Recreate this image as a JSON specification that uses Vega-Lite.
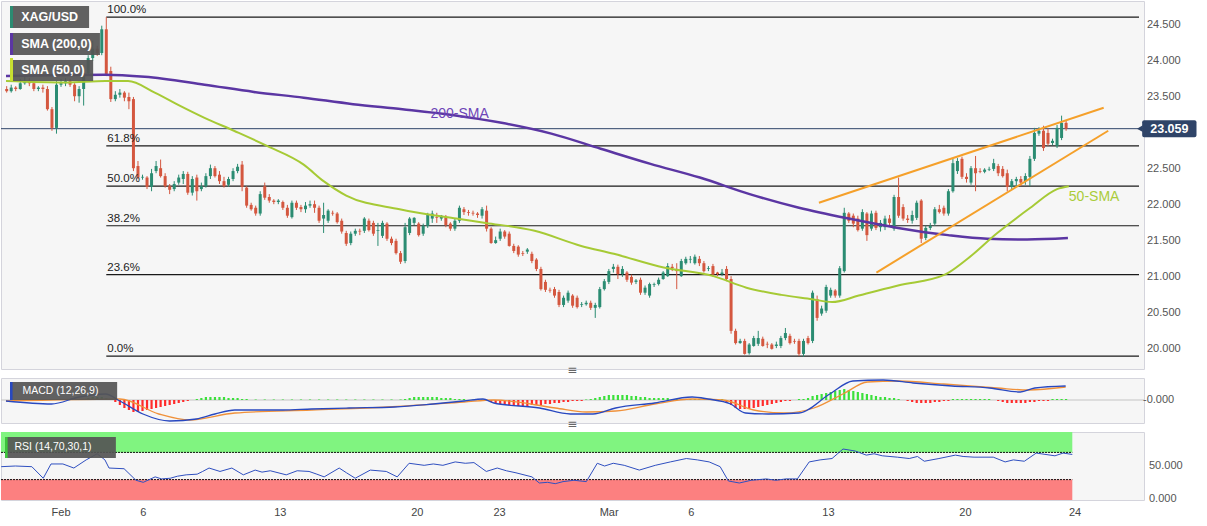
{
"$schema":"https://vega.github.io/schema/vega-lite/v6.json",
"padding":0,
"background":"white",
"spacing":9,
"bounds":"flush",
"config":{"view":{"fill":"#f6f6f6","stroke":"#d4d4dc"},"axis":{"labelFont":"Liberation Sans","labelFontSize":11,"labelColor":"#555","gridColor":"#e4e4e4","domain":false,"ticks":false},"text":{"font":"Liberation Sans"}},
"datasets":{
"candles":[
{"i":0,"o":23.61,"h":23.65,"l":23.56,"c":23.58},{"i":1,"o":23.58,"h":23.67,"l":23.56,"c":23.63},{"i":2,"o":23.63,"h":23.65,"l":23.58,"c":23.61},{"i":3,"o":23.61,"h":23.75,"l":23.6,"c":23.69},{"i":4,"o":23.69,"h":23.78,"l":23.67,"c":23.72},{"i":5,"o":23.72,"h":23.76,"l":23.65,"c":23.69},{"i":6,"o":23.69,"h":23.72,"l":23.58,"c":23.61},{"i":7,"o":23.61,"h":23.65,"l":23.58,"c":23.63},{"i":8,"o":23.63,"h":23.67,"l":23.56,"c":23.61},{"i":9,"o":23.61,"h":23.65,"l":23.31,"c":23.33},
{"i":10,"o":23.33,"h":23.36,"l":23.03,"c":23.07},{"i":11,"o":23.07,"h":23.72,"l":22.99,"c":23.67},{"i":12,"o":23.67,"h":23.75,"l":23.64,"c":23.69},{"i":13,"o":23.69,"h":23.76,"l":23.65,"c":23.72},{"i":14,"o":23.72,"h":23.75,"l":23.64,"c":23.67},{"i":15,"o":23.67,"h":23.69,"l":23.44,"c":23.51},{"i":16,"o":23.51,"h":23.65,"l":23.42,"c":23.61},{"i":17,"o":23.61,"h":23.89,"l":23.38,"c":23.83},{"i":18,"o":23.83,"h":24.08,"l":23.81,"c":24.04},{"i":19,"o":24.04,"h":24.28,"l":24.0,"c":24.17},
{"i":20,"o":24.17,"h":24.21,"l":24.07,"c":24.11},{"i":21,"o":24.11,"h":24.49,"l":24.08,"c":24.44},{"i":22,"o":24.44,"h":24.61,"l":23.79,"c":23.82},{"i":23,"o":23.86,"h":23.92,"l":23.43,"c":23.47},{"i":24,"o":23.47,"h":23.58,"l":23.44,"c":23.53},{"i":25,"o":23.53,"h":23.61,"l":23.49,"c":23.56},{"i":26,"o":23.56,"h":23.58,"l":23.44,"c":23.49},{"i":27,"o":23.5,"h":23.56,"l":23.33,"c":23.44},{"i":28,"o":23.47,"h":23.5,"l":22.47,"c":22.51},{"i":29,"o":22.54,"h":22.61,"l":22.36,"c":22.38},
{"i":30,"o":22.38,"h":22.42,"l":22.35,"c":22.39},{"i":31,"o":22.38,"h":22.4,"l":22.22,"c":22.25},{"i":32,"o":22.25,"h":22.5,"l":22.19,"c":22.44},{"i":33,"o":22.47,"h":22.61,"l":22.44,"c":22.54},{"i":34,"o":22.51,"h":22.63,"l":22.38,"c":22.4},{"i":35,"o":22.4,"h":22.44,"l":22.24,"c":22.26},{"i":36,"o":22.26,"h":22.29,"l":22.15,"c":22.21},{"i":37,"o":22.22,"h":22.33,"l":22.19,"c":22.29},{"i":38,"o":22.31,"h":22.42,"l":22.28,"c":22.38},{"i":39,"o":22.36,"h":22.47,"l":22.29,"c":22.43},
{"i":40,"o":22.43,"h":22.46,"l":22.14,"c":22.17},{"i":41,"o":22.17,"h":22.4,"l":22.13,"c":22.36},{"i":42,"o":22.38,"h":22.42,"l":22.06,"c":22.19},{"i":43,"o":22.22,"h":22.31,"l":22.19,"c":22.26},{"i":44,"o":22.26,"h":22.44,"l":22.24,"c":22.4},{"i":45,"o":22.4,"h":22.56,"l":22.36,"c":22.51},{"i":46,"o":22.51,"h":22.54,"l":22.38,"c":22.4},{"i":47,"o":22.42,"h":22.47,"l":22.29,"c":22.33},{"i":48,"o":22.33,"h":22.39,"l":22.24,"c":22.26},{"i":49,"o":22.28,"h":22.39,"l":22.25,"c":22.36},
{"i":50,"o":22.36,"h":22.51,"l":22.33,"c":22.47},{"i":51,"o":22.47,"h":22.57,"l":22.44,"c":22.53},{"i":52,"o":22.56,"h":22.61,"l":22.19,"c":22.25},{"i":53,"o":22.24,"h":22.26,"l":21.96,"c":21.99},{"i":54,"o":22.0,"h":22.03,"l":21.92,"c":21.94},{"i":55,"o":21.96,"h":21.99,"l":21.85,"c":21.88},{"i":56,"o":21.88,"h":22.19,"l":21.85,"c":22.15},{"i":57,"o":22.26,"h":22.31,"l":22.07,"c":22.1},{"i":58,"o":22.11,"h":22.15,"l":22.03,"c":22.06},{"i":59,"o":22.06,"h":22.08,"l":22.01,"c":22.04},
{"i":60,"o":22.04,"h":22.08,"l":22.01,"c":22.06},{"i":61,"o":22.04,"h":22.06,"l":21.93,"c":21.96},{"i":62,"o":21.96,"h":22.0,"l":21.82,"c":21.85},{"i":63,"o":21.83,"h":22.06,"l":21.81,"c":22.03},{"i":64,"o":22.03,"h":22.06,"l":21.93,"c":21.96},{"i":65,"o":21.97,"h":22.0,"l":21.9,"c":21.94},{"i":66,"o":21.94,"h":22.04,"l":21.89,"c":21.99},{"i":67,"o":21.99,"h":22.06,"l":21.96,"c":22.01},{"i":68,"o":22.01,"h":22.06,"l":21.89,"c":21.96},{"i":69,"o":21.96,"h":21.99,"l":21.75,"c":21.78},
{"i":70,"o":21.81,"h":22.03,"l":21.61,"c":21.86},{"i":71,"o":21.78,"h":21.94,"l":21.75,"c":21.92},{"i":72,"o":21.89,"h":21.92,"l":21.85,"c":21.88},{"i":73,"o":21.88,"h":21.9,"l":21.74,"c":21.76},{"i":74,"o":21.78,"h":21.81,"l":21.6,"c":21.63},{"i":75,"o":21.61,"h":21.64,"l":21.43,"c":21.46},{"i":76,"o":21.47,"h":21.63,"l":21.44,"c":21.6},{"i":77,"o":21.6,"h":21.67,"l":21.57,"c":21.64},{"i":78,"o":21.64,"h":21.67,"l":21.58,"c":21.63},{"i":79,"o":21.64,"h":21.83,"l":21.61,"c":21.81},
{"i":80,"o":21.78,"h":21.81,"l":21.63,"c":21.65},{"i":81,"o":21.75,"h":21.78,"l":21.57,"c":21.6},{"i":82,"o":21.64,"h":21.75,"l":21.43,"c":21.65},{"i":83,"o":21.57,"h":21.78,"l":21.54,"c":21.75},{"i":84,"o":21.74,"h":21.76,"l":21.5,"c":21.53},{"i":85,"o":21.53,"h":21.56,"l":21.44,"c":21.47},{"i":86,"o":21.5,"h":21.53,"l":21.31,"c":21.33},{"i":87,"o":21.33,"h":21.36,"l":21.18,"c":21.21},{"i":88,"o":21.22,"h":21.75,"l":21.19,"c":21.69},{"i":89,"o":21.61,"h":21.83,"l":21.58,"c":21.81},
{"i":90,"o":21.75,"h":21.83,"l":21.72,"c":21.82},{"i":91,"o":21.74,"h":21.76,"l":21.56,"c":21.58},{"i":92,"o":21.6,"h":21.74,"l":21.57,"c":21.71},{"i":93,"o":21.71,"h":21.89,"l":21.68,"c":21.86},{"i":94,"o":21.81,"h":21.92,"l":21.75,"c":21.88},{"i":95,"o":21.83,"h":21.89,"l":21.75,"c":21.82},{"i":96,"o":21.81,"h":21.86,"l":21.78,"c":21.85},{"i":97,"o":21.83,"h":21.86,"l":21.69,"c":21.72},{"i":98,"o":21.74,"h":21.76,"l":21.64,"c":21.67},{"i":99,"o":21.67,"h":21.81,"l":21.64,"c":21.78},
{"i":100,"o":21.78,"h":21.99,"l":21.75,"c":21.96},{"i":101,"o":21.94,"h":21.97,"l":21.86,"c":21.9},{"i":102,"o":21.9,"h":21.93,"l":21.85,"c":21.89},{"i":103,"o":21.89,"h":21.92,"l":21.85,"c":21.88},{"i":104,"o":21.88,"h":21.9,"l":21.82,"c":21.86},{"i":105,"o":21.85,"h":21.97,"l":21.81,"c":21.94},{"i":106,"o":21.92,"h":21.99,"l":21.63,"c":21.67},{"i":107,"o":21.67,"h":21.69,"l":21.46,"c":21.47},{"i":108,"o":21.47,"h":21.56,"l":21.46,"c":21.51},{"i":109,"o":21.53,"h":21.67,"l":21.5,"c":21.63},
{"i":110,"o":21.63,"h":21.65,"l":21.53,"c":21.56},{"i":111,"o":21.6,"h":21.63,"l":21.42,"c":21.43},{"i":112,"o":21.43,"h":21.46,"l":21.33,"c":21.36},{"i":113,"o":21.42,"h":21.44,"l":21.28,"c":21.31},{"i":114,"o":21.33,"h":21.36,"l":21.29,"c":21.32},{"i":115,"o":21.35,"h":21.4,"l":21.32,"c":21.38},{"i":116,"o":21.32,"h":21.35,"l":21.19,"c":21.22},{"i":117,"o":21.24,"h":21.26,"l":21.08,"c":21.11},{"i":118,"o":21.11,"h":21.14,"l":20.81,"c":20.83},{"i":119,"o":20.93,"h":20.96,"l":20.79,"c":20.82},
{"i":120,"o":20.82,"h":20.85,"l":20.78,"c":20.81},{"i":121,"o":20.83,"h":20.86,"l":20.71,"c":20.74},{"i":122,"o":20.79,"h":20.82,"l":20.58,"c":20.61},{"i":123,"o":20.61,"h":20.74,"l":20.58,"c":20.71},{"i":124,"o":20.67,"h":20.81,"l":20.64,"c":20.78},{"i":125,"o":20.74,"h":20.76,"l":20.57,"c":20.6},{"i":126,"o":20.71,"h":20.74,"l":20.56,"c":20.58},{"i":127,"o":20.61,"h":20.65,"l":20.58,"c":20.62},{"i":128,"o":20.62,"h":20.67,"l":20.6,"c":20.64},{"i":129,"o":20.64,"h":20.67,"l":20.54,"c":20.57},
{"i":130,"o":20.57,"h":20.64,"l":20.43,"c":20.61},{"i":131,"o":20.58,"h":20.86,"l":20.56,"c":20.83},{"i":132,"o":20.83,"h":20.97,"l":20.81,"c":20.94},{"i":133,"o":20.93,"h":21.11,"l":20.9,"c":21.08},{"i":134,"o":21.11,"h":21.18,"l":21.06,"c":21.14},{"i":135,"o":21.14,"h":21.17,"l":20.97,"c":21.04},{"i":136,"o":21.04,"h":21.15,"l":21.0,"c":21.11},{"i":137,"o":21.06,"h":21.08,"l":20.93,"c":20.96},{"i":138,"o":21.0,"h":21.03,"l":20.89,"c":20.92},{"i":139,"o":20.93,"h":20.97,"l":20.9,"c":20.95},
{"i":140,"o":20.96,"h":20.99,"l":20.75,"c":20.78},{"i":141,"o":20.78,"h":20.88,"l":20.75,"c":20.85},{"i":142,"o":20.74,"h":20.92,"l":20.71,"c":20.9},{"i":143,"o":20.89,"h":20.92,"l":20.86,"c":20.9},{"i":144,"o":20.9,"h":20.99,"l":20.88,"c":20.96},{"i":145,"o":20.97,"h":21.08,"l":20.96,"c":21.06},{"i":146,"o":21.01,"h":21.19,"l":21.0,"c":21.15},{"i":147,"o":21.14,"h":21.18,"l":21.08,"c":21.12},{"i":148,"o":21.11,"h":21.19,"l":20.83,"c":21.08},{"i":149,"o":21.01,"h":21.25,"l":21.0,"c":21.22},
{"i":150,"o":21.19,"h":21.28,"l":21.17,"c":21.25},{"i":151,"o":21.24,"h":21.29,"l":21.19,"c":21.25},{"i":152,"o":21.19,"h":21.31,"l":21.17,"c":21.28},{"i":153,"o":21.25,"h":21.29,"l":21.15,"c":21.19},{"i":154,"o":21.19,"h":21.22,"l":21.06,"c":21.08},{"i":155,"o":21.11,"h":21.15,"l":21.08,"c":21.12},{"i":156,"o":21.15,"h":21.18,"l":21.0,"c":21.03},{"i":157,"o":21.06,"h":21.07,"l":21.01,"c":21.04},{"i":158,"o":21.04,"h":21.11,"l":21.01,"c":21.06},{"i":159,"o":21.11,"h":21.15,"l":20.94,"c":20.97},
{"i":160,"o":20.97,"h":21.01,"l":20.21,"c":20.25},{"i":161,"o":20.25,"h":20.28,"l":20.06,"c":20.08},{"i":162,"o":20.08,"h":20.14,"l":20.07,"c":20.11},{"i":163,"o":20.11,"h":20.14,"l":19.92,"c":19.93},{"i":164,"o":19.94,"h":20.08,"l":19.92,"c":20.06},{"i":165,"o":20.04,"h":20.18,"l":20.03,"c":20.15},{"i":166,"o":20.07,"h":20.25,"l":20.04,"c":20.15},{"i":167,"o":20.14,"h":20.17,"l":20.03,"c":20.04},{"i":168,"o":20.07,"h":20.1,"l":20.01,"c":20.06},{"i":169,"o":20.06,"h":20.08,"l":19.99,"c":20.0},
{"i":170,"o":20.04,"h":20.1,"l":20.01,"c":20.06},{"i":171,"o":20.04,"h":20.18,"l":20.01,"c":20.15},{"i":172,"o":20.15,"h":20.29,"l":20.12,"c":20.22},{"i":173,"o":20.18,"h":20.21,"l":20.06,"c":20.08},{"i":174,"o":20.11,"h":20.14,"l":20.07,"c":20.1},{"i":175,"o":20.11,"h":20.14,"l":19.9,"c":19.93},{"i":176,"o":19.93,"h":20.14,"l":19.89,"c":20.11},{"i":177,"o":20.15,"h":20.18,"l":20.06,"c":20.08},{"i":178,"o":20.11,"h":20.81,"l":20.08,"c":20.78},{"i":179,"o":20.69,"h":20.74,"l":20.39,"c":20.43},
{"i":180,"o":20.49,"h":20.6,"l":20.46,"c":20.56},{"i":181,"o":20.53,"h":20.89,"l":20.5,"c":20.86},{"i":182,"o":20.74,"h":20.85,"l":20.71,"c":20.82},{"i":183,"o":20.81,"h":20.83,"l":20.71,"c":20.74},{"i":184,"o":20.74,"h":21.15,"l":20.71,"c":21.12},{"i":185,"o":21.08,"h":21.96,"l":21.06,"c":21.89},{"i":186,"o":21.88,"h":21.9,"l":21.75,"c":21.78},{"i":187,"o":21.85,"h":21.88,"l":21.69,"c":21.74},{"i":188,"o":21.81,"h":21.85,"l":21.63,"c":21.65},{"i":189,"o":21.67,"h":21.94,"l":21.64,"c":21.9},
{"i":190,"o":21.88,"h":21.9,"l":21.5,"c":21.58},{"i":191,"o":21.67,"h":21.92,"l":21.64,"c":21.88},{"i":192,"o":21.89,"h":21.92,"l":21.65,"c":21.68},{"i":193,"o":21.69,"h":21.79,"l":21.63,"c":21.75},{"i":194,"o":21.69,"h":21.85,"l":21.65,"c":21.81},{"i":195,"o":21.81,"h":21.86,"l":21.71,"c":21.75},{"i":196,"o":21.67,"h":22.14,"l":21.64,"c":22.11},{"i":197,"o":22.11,"h":22.38,"l":21.82,"c":21.85},{"i":198,"o":21.97,"h":22.01,"l":21.78,"c":21.81},{"i":199,"o":21.81,"h":21.86,"l":21.75,"c":21.79},
{"i":200,"o":21.78,"h":21.92,"l":21.74,"c":21.86},{"i":201,"o":21.82,"h":22.06,"l":21.79,"c":22.03},{"i":202,"o":22.06,"h":22.08,"l":21.47,"c":21.53},{"i":203,"o":21.54,"h":21.71,"l":21.51,"c":21.68},{"i":204,"o":21.68,"h":21.75,"l":21.65,"c":21.71},{"i":205,"o":21.74,"h":21.97,"l":21.71,"c":21.94},{"i":206,"o":21.94,"h":22.0,"l":21.88,"c":21.9},{"i":207,"o":21.96,"h":21.99,"l":21.85,"c":21.88},{"i":208,"o":21.88,"h":22.22,"l":21.85,"c":22.19},{"i":209,"o":22.19,"h":22.64,"l":22.17,"c":22.58},
{"i":210,"o":22.47,"h":22.65,"l":22.43,"c":22.61},{"i":211,"o":22.64,"h":22.67,"l":22.36,"c":22.39},{"i":212,"o":22.39,"h":22.44,"l":22.31,"c":22.36},{"i":213,"o":22.31,"h":22.54,"l":22.28,"c":22.51},{"i":214,"o":22.51,"h":22.68,"l":22.19,"c":22.44},{"i":215,"o":22.47,"h":22.51,"l":22.44,"c":22.46},{"i":216,"o":22.46,"h":22.51,"l":22.44,"c":22.49},{"i":217,"o":22.49,"h":22.53,"l":22.47,"c":22.5},{"i":218,"o":22.5,"h":22.64,"l":22.47,"c":22.58},{"i":219,"o":22.54,"h":22.57,"l":22.4,"c":22.44},
{"i":220,"o":22.5,"h":22.54,"l":22.38,"c":22.4},{"i":221,"o":22.44,"h":22.49,"l":22.19,"c":22.25},{"i":222,"o":22.25,"h":22.36,"l":22.22,"c":22.33},{"i":223,"o":22.33,"h":22.39,"l":22.26,"c":22.36},{"i":224,"o":22.36,"h":22.4,"l":22.26,"c":22.31},{"i":225,"o":22.33,"h":22.44,"l":22.28,"c":22.4},{"i":226,"o":22.39,"h":22.68,"l":22.26,"c":22.64},{"i":227,"o":22.64,"h":23.07,"l":22.61,"c":23.0},{"i":228,"o":22.99,"h":23.08,"l":22.96,"c":23.03},{"i":229,"o":23.03,"h":23.1,"l":22.75,"c":22.79},
{"i":230,"o":23.0,"h":23.06,"l":22.82,"c":22.85},{"i":231,"o":22.86,"h":22.92,"l":22.83,"c":22.89},{"i":232,"o":22.82,"h":23.11,"l":22.79,"c":23.07},{"i":233,"o":22.93,"h":23.24,"l":22.9,"c":23.14},{"i":234,"o":23.14,"h":23.17,"l":23.03,"c":23.06}
],
"sma200":[{"i":-0.15,"p":23.79},{"i":21.8,"p":23.81},{"i":30.5,"p":23.78},{"i":43.7,"p":23.67},{"i":54.6,"p":23.57},{"i":65.6,"p":23.49},{"i":76.5,"p":23.4},{"i":87.4,"p":23.33},{"i":98.4,"p":23.25},{"i":109.3,"p":23.14},{"i":120.3,"p":22.99},{"i":131.2,"p":22.78},{"i":142.2,"p":22.57},{"i":153.1,"p":22.38},{"i":164.1,"p":22.15},{"i":175,"p":21.96},{"i":186,"p":21.81},{"i":196.9,"p":21.68},{"i":207.9,"p":21.58},{"i":216.6,"p":21.53},{"i":225.4,"p":21.52},{"i":234.4,"p":21.54}],
"sma50":[{"i":-0.15,"p":23.72},{"i":13,"p":23.7},{"i":21.8,"p":23.72},{"i":26.8,"p":23.72},{"i":32.7,"p":23.56},{"i":38.2,"p":23.38},{"i":43.7,"p":23.21},{"i":50.2,"p":23.03},{"i":57.5,"p":22.82},{"i":65.6,"p":22.56},{"i":70,"p":22.33},{"i":75,"p":22.13},{"i":86.8,"p":21.94},{"i":99.3,"p":21.81},{"i":105.8,"p":21.75},{"i":116.6,"p":21.64},{"i":126.9,"p":21.43},{"i":134.1,"p":21.32},{"i":145.1,"p":21.13},{"i":156.1,"p":21.01},{"i":163.4,"p":20.85},{"i":171.1,"p":20.75},{"i":177.9,"p":20.69},{"i":182.3,"p":20.65},{"i":188.2,"p":20.74},{"i":196.9,"p":20.88},{"i":207.2,"p":21.03},{"i":211.6,"p":21.22},{"i":218.8,"p":21.61},{"i":226.1,"p":21.96},{"i":232,"p":22.22},{"i":234.6,"p":22.26}],
"trend":[{"g":"u","i":179.4,"p":22.03},{"g":"u","i":242.3,"p":23.35},{"g":"l","i":192.1,"p":21.06},{"g":"l","i":243.3,"p":23.03}],
"fib":[{"p":24.61,"t":"100.0%"},{"p":22.82,"t":"61.8%"},{"p":22.26,"t":"50.0%"},{"p":21.71,"t":"38.2%"},{"p":21.03,"t":"23.6%"},{"p":19.9,"t":"0.0%"}],
"macd":[{"i":-0.15,"v":-0.01},{"i":9.9,"v":-0.04},{"i":16,"v":0.03},{"i":21.8,"v":0.06},{"i":25,"v":-0.01},{"i":30.1,"v":-0.14},{"i":36,"v":-0.21},{"i":41.9,"v":-0.19},{"i":46,"v":-0.14},{"i":50.4,"v":-0.1},{"i":55.5,"v":-0.1},{"i":61,"v":-0.1},{"i":67.3,"v":-0.09},{"i":75.6,"v":-0.08},{"i":85.7,"v":-0.07},{"i":94.2,"v":-0.04},{"i":101,"v":-0.01},{"i":105.2,"v":0.01},{"i":107.6,"v":-0.03},{"i":117.7,"v":-0.08},{"i":124.5,"v":-0.14},{"i":129.5,"v":-0.14},{"i":134.5,"v":-0.08},{"i":143.1,"v":-0.03},{"i":151.4,"v":0.03},{"i":154.9,"v":0.01},{"i":159.9,"v":-0.04},{"i":163.2,"v":-0.13},{"i":168.2,"v":-0.14},{"i":175,"v":-0.13},{"i":181.8,"v":0.06},{"i":186.9,"v":0.19},{"i":193.6,"v":0.2},{"i":200.2,"v":0.17},{"i":208.8,"v":0.14},{"i":217.1,"v":0.12},{"i":223.9,"v":0.08},{"i":227.1,"v":0.12},{"i":233.9,"v":0.14}],
"sig":[{"i":-0.15,"v":-0.01},{"i":25,"v":0.01},{"i":33.6,"v":-0.14},{"i":40.4,"v":-0.2},{"i":50.4,"v":-0.13},{"i":67.3,"v":-0.1},{"i":84.2,"v":-0.07},{"i":101,"v":-0.02},{"i":107.6,"v":0.0},{"i":121.2,"v":-0.08},{"i":128,"v":-0.12},{"i":134.5,"v":-0.11},{"i":143.1,"v":-0.04},{"i":151.4,"v":0.01},{"i":158.2,"v":0.0},{"i":165,"v":-0.1},{"i":171.7,"v":-0.13},{"i":178.3,"v":-0.08},{"i":185.1,"v":0.07},{"i":190.1,"v":0.18},{"i":196.9,"v":0.19},{"i":207,"v":0.16},{"i":218.8,"v":0.12},{"i":225.6,"v":0.1},{"i":233.9,"v":0.13}],
"hist":[{"i":17,"v":0.01},{"i":18,"v":0.02},{"i":19,"v":0.03},{"i":20,"v":0.03},{"i":21,"v":0.03},{"i":22,"v":0.02},{"i":24,"v":-0.02},{"i":25,"v":-0.05},{"i":26,"v":-0.08},{"i":27,"v":-0.1},{"i":28,"v":-0.12},{"i":29,"v":-0.12},{"i":30,"v":-0.11},{"i":31,"v":-0.1},{"i":32,"v":-0.09},{"i":33,"v":-0.08},{"i":34,"v":-0.07},{"i":35,"v":-0.06},{"i":36,"v":-0.05},{"i":37,"v":-0.04},{"i":38,"v":-0.03},{"i":39,"v":-0.02},{"i":40,"v":-0.01},{"i":42,"v":0.01},{"i":43,"v":0.02},{"i":44,"v":0.03},{"i":45,"v":0.03},{"i":46,"v":0.03},{"i":47,"v":0.03},{"i":48,"v":0.03},{"i":49,"v":0.02},{"i":50,"v":0.02},{"i":51,"v":0.02},{"i":52,"v":0.01},{"i":53,"v":0.01},
{"i":55,"v":0.005},{"i":57,"v":0.005},{"i":59,"v":0.005},{"i":61,"v":0.005},{"i":63,"v":0.005},{"i":65,"v":0.005},{"i":67,"v":0.005},{"i":69,"v":0.005},{"i":71,"v":0.005},{"i":73,"v":0.005},{"i":75,"v":0.005},{"i":77,"v":0.005},{"i":79,"v":0.005},{"i":81,"v":0.005},{"i":83,"v":0.005},{"i":85,"v":0.005},{"i":87,"v":0.005},
{"i":88,"v":0.01},{"i":89,"v":0.02},{"i":90,"v":0.03},{"i":91,"v":0.03},{"i":92,"v":0.03},{"i":93,"v":0.03},{"i":94,"v":0.03},{"i":95,"v":0.03},{"i":96,"v":0.02},{"i":97,"v":0.02},{"i":98,"v":0.02},{"i":99,"v":0.01},{"i":100,"v":0.01},{"i":101,"v":0.01},{"i":103,"v":0.005},{"i":105,"v":0.005},
{"i":106,"v":-0.01},{"i":107,"v":-0.02},{"i":108,"v":-0.03},{"i":109,"v":-0.04},{"i":110,"v":-0.05},{"i":111,"v":-0.05},{"i":112,"v":-0.06},{"i":113,"v":-0.06},{"i":114,"v":-0.06},{"i":115,"v":-0.06},{"i":116,"v":-0.05},{"i":117,"v":-0.05},{"i":118,"v":-0.05},{"i":119,"v":-0.04},{"i":120,"v":-0.04},{"i":121,"v":-0.03},{"i":122,"v":-0.03},{"i":123,"v":-0.02},{"i":124,"v":-0.02},{"i":125,"v":-0.01},{"i":126,"v":-0.01},{"i":127,"v":-0.01},
{"i":128,"v":0.005},{"i":129,"v":0.01},{"i":130,"v":0.02},{"i":131,"v":0.03},{"i":132,"v":0.04},{"i":133,"v":0.05},{"i":134,"v":0.05},{"i":135,"v":0.05},{"i":136,"v":0.05},{"i":137,"v":0.05},{"i":138,"v":0.04},{"i":139,"v":0.04},{"i":140,"v":0.03},{"i":141,"v":0.03},{"i":142,"v":0.02},{"i":143,"v":0.02},{"i":144,"v":0.02},{"i":145,"v":0.02},{"i":146,"v":0.02},{"i":147,"v":0.01},{"i":148,"v":0.01},{"i":149,"v":0.01},{"i":150,"v":0.01},{"i":151,"v":0.01},{"i":152,"v":0.01},{"i":153,"v":0.01},{"i":154,"v":0.01},{"i":155,"v":0.01},{"i":156,"v":0.01},{"i":157,"v":0.01},{"i":158,"v":0.01},
{"i":159,"v":-0.02},{"i":160,"v":-0.05},{"i":161,"v":-0.08},{"i":162,"v":-0.09},{"i":163,"v":-0.09},{"i":164,"v":-0.09},{"i":165,"v":-0.08},{"i":166,"v":-0.07},{"i":167,"v":-0.06},{"i":168,"v":-0.05},{"i":169,"v":-0.04},{"i":170,"v":-0.03},{"i":171,"v":-0.02},{"i":172,"v":-0.01},{"i":173,"v":-0.01},
{"i":175,"v":0.01},{"i":176,"v":0.01},{"i":177,"v":0.02},{"i":178,"v":0.04},{"i":179,"v":0.05},{"i":180,"v":0.06},{"i":181,"v":0.07},{"i":182,"v":0.08},{"i":183,"v":0.09},{"i":184,"v":0.1},{"i":185,"v":0.11},{"i":186,"v":0.1},{"i":187,"v":0.09},{"i":188,"v":0.08},{"i":189,"v":0.07},{"i":190,"v":0.06},{"i":191,"v":0.05},{"i":192,"v":0.04},{"i":193,"v":0.03},{"i":194,"v":0.03},{"i":195,"v":0.02},{"i":196,"v":0.02},{"i":197,"v":0.01},
{"i":199,"v":-0.01},{"i":200,"v":-0.02},{"i":201,"v":-0.03},{"i":202,"v":-0.03},{"i":203,"v":-0.03},{"i":204,"v":-0.03},{"i":205,"v":-0.02},{"i":206,"v":-0.02},{"i":207,"v":-0.01},{"i":208,"v":-0.01},
{"i":209,"v":0.01},{"i":210,"v":0.01},{"i":211,"v":0.01},{"i":212,"v":0.01},{"i":213,"v":0.01},{"i":214,"v":0.01},{"i":215,"v":0.01},{"i":216,"v":0.01},{"i":217,"v":0.01},
{"i":219,"v":-0.01},{"i":220,"v":-0.02},{"i":221,"v":-0.03},{"i":222,"v":-0.03},{"i":223,"v":-0.03},{"i":224,"v":-0.03},{"i":225,"v":-0.03},{"i":226,"v":-0.02},{"i":227,"v":-0.02},{"i":228,"v":-0.01},{"i":229,"v":-0.01},{"i":230,"v":-0.01},{"i":231,"v":0.01},{"i":232,"v":0.01},{"i":233,"v":0.01},{"i":234,"v":0.01}],
"rsi":[{"i":-0.1,"r":49},{"i":3,"r":50},{"i":6.6,"r":49},{"i":9.1,"r":32},{"i":10.8,"r":53},{"i":13.4,"r":53},{"i":15.8,"r":47},{"i":18.5,"r":59},{"i":20.9,"r":68},{"i":22.6,"r":59},{"i":23.5,"r":47},{"i":26.8,"r":46},{"i":29.4,"r":29},{"i":31,"r":26},{"i":33.6,"r":34},{"i":35,"r":31},{"i":36.9,"r":32},{"i":38.5,"r":35},{"i":40.4,"r":37},{"i":42.8,"r":38},{"i":44,"r":42},{"i":45.4,"r":47},{"i":47.8,"r":42},{"i":50.4,"r":47},{"i":52.9,"r":37},{"i":55.5,"r":44},{"i":57,"r":41},{"i":58.8,"r":43},{"i":62.3,"r":37},{"i":64.7,"r":43},{"i":67.3,"r":42},{"i":69,"r":38},{"i":70.6,"r":34},{"i":73.9,"r":47},{"i":75.5,"r":40},{"i":77.4,"r":32},{"i":80.7,"r":44},{"i":84.2,"r":42},{"i":86.6,"r":34},{"i":89.2,"r":54},{"i":92.5,"r":51},{"i":94.5,"r":53},{"i":96.6,"r":51},{"i":99.3,"r":56},{"i":101.5,"r":54},{"i":103.4,"r":55},{"i":106.1,"r":42},{"i":108.5,"r":47},{"i":110.5,"r":43},{"i":112.6,"r":40},{"i":116.1,"r":34},{"i":117.7,"r":25},{"i":119.5,"r":26},{"i":121.2,"r":24},{"i":122.9,"r":27},{"i":125.3,"r":29},{"i":128,"r":27},{"i":130.4,"r":54},{"i":132,"r":50},{"i":133.9,"r":54},{"i":136.3,"r":51},{"i":139.6,"r":44},{"i":143.1,"r":51},{"i":146.4,"r":56},{"i":149.9,"r":61},{"i":152.3,"r":59},{"i":154.9,"r":56},{"i":157.3,"r":49},{"i":159.1,"r":28},{"i":161.5,"r":25},{"i":164.1,"r":29},{"i":167.4,"r":31},{"i":169.5,"r":29},{"i":171.7,"r":31},{"i":174.2,"r":31},{"i":176.8,"r":56},{"i":179.2,"r":59},{"i":181.8,"r":61},{"i":184.2,"r":75},{"i":186.9,"r":72},{"i":189.3,"r":66},{"i":191,"r":68},{"i":192.8,"r":65},{"i":196.1,"r":63},{"i":198.7,"r":61},{"i":200.5,"r":64},{"i":202,"r":57},{"i":205.2,"r":61},{"i":208.8,"r":66},{"i":210.5,"r":64},{"i":212.9,"r":63},{"i":217.1,"r":63},{"i":219.7,"r":56},{"i":221.5,"r":59},{"i":223.9,"r":57},{"i":226.5,"r":69},{"i":230.6,"r":65},{"i":232.4,"r":69},{"i":234.4,"r":67}],
"ticks":[{"i":13,"lab":"Feb","w":"bold"},{"i":31,"lab":"6","w":"normal"},{"i":61,"lab":"13","w":"normal"},{"i":91,"lab":"20","w":"normal"},{"i":109,"lab":"23","w":"normal"},{"i":133,"lab":"Mar","w":"bold"},{"i":151,"lab":"6","w":"normal"},{"i":181,"lab":"13","w":"normal"},{"i":211,"lab":"20","w":"normal"},{"i":235,"lab":"24","w":"normal"}],
"pticks":[{"v":20},{"v":20.5},{"v":21},{"v":21.5},{"v":22},{"v":22.5},{"v":23.5},{"v":24},{"v":24.5}],
"rticks":[{"v":50,"t":"50.000"},{"v":1.5,"t":"0.000"}]
},
"vconcat":[
{"width":1143,"height":368,
"layer":[
{"data":{"name":"fib"},"mark":{"type":"rule","color":"#1a1a1a","strokeWidth":1.2},"encoding":{"x":{"datum":22,"type":"quantitative","scale":{"domain":[-0.15,250.1],"nice":false,"zero":false},"axis":null},"x2":{"datum":250.1},"y":{"field":"p","type":"quantitative","scale":{"domain":[19.72,24.833],"nice":false,"zero":false},"axis":null}}},
{"data":{"values":[{}]},"mark":{"type":"rule","color":"#2f4468","strokeWidth":1},"encoding":{"y":{"datum":23.059,"type":"quantitative","scale":{"domain":[19.72,24.833],"nice":false,"zero":false},"axis":null}}},
{"data":{"name":"candles"},"mark":{"type":"rule","strokeWidth":1,"clip":true},"encoding":{
 "x":{"field":"i","type":"quantitative","scale":{"domain":[-0.15,250.1],"nice":false,"zero":false},"axis":{"values":[13,31,61,91,109,133,151,181,211,235],"labels":false,"grid":true,"title":null}},
 "y":{"field":"l","type":"quantitative","scale":{"domain":[19.72,24.833],"nice":false,"zero":false},"axis":{"orient":"right","values":[20,20.5,21,21.5,22,22.5,23,23.5,24,24.5],"labels":false,"grid":true,"title":null}},
 "y2":{"field":"h"},
 "color":{"condition":{"test":"datum.c >= datum.o","value":"#2b8c72"},"value":"#d4573f"}}},
{"data":{"name":"candles"},"mark":{"type":"bar","size":3,"clip":true},"encoding":{
 "x":{"field":"i","type":"quantitative","scale":{"domain":[-0.15,250.1],"nice":false,"zero":false},"axis":null},
 "y":{"field":"o","type":"quantitative","scale":{"domain":[19.72,24.833],"nice":false,"zero":false},"axis":null},
 "y2":{"field":"c"},
 "color":{"condition":{"test":"datum.c >= datum.o","value":"#2b8c72"},"value":"#d4573f"}}},
{"data":{"name":"sma200"},"mark":{"type":"line","color":"#5b36a3","strokeWidth":2.5,"interpolate":"monotone","clip":true,"strokeJoin":"round"},"encoding":{"x":{"field":"i","type":"quantitative","scale":{"domain":[-0.15,250.1],"nice":false,"zero":false},"axis":null},"y":{"field":"p","type":"quantitative","scale":{"domain":[19.72,24.833],"nice":false,"zero":false},"axis":null}}},
{"data":{"name":"sma50"},"mark":{"type":"line","color":"#a6ca35","strokeWidth":2,"interpolate":"monotone","clip":true,"strokeJoin":"round"},"encoding":{"x":{"field":"i","type":"quantitative","scale":{"domain":[-0.15,250.1],"nice":false,"zero":false},"axis":null},"y":{"field":"p","type":"quantitative","scale":{"domain":[19.72,24.833],"nice":false,"zero":false},"axis":null}}},
{"data":{"name":"trend"},"mark":{"type":"line","color":"#f5a02a","strokeWidth":2,"clip":true,"strokeJoin":"round"},"encoding":{"x":{"field":"i","type":"quantitative","scale":{"domain":[-0.15,250.1],"nice":false,"zero":false},"axis":null},"y":{"field":"p","type":"quantitative","scale":{"domain":[19.72,24.833],"nice":false,"zero":false},"axis":null},"detail":{"field":"g"}}},
{"data":{"name":"fib"},"mark":{"type":"text","align":"left","baseline":"bottom","dx":1,"dy":-2,"fontSize":11.5,"color":"#222"},"encoding":{"x":{"datum":22,"type":"quantitative","scale":{"domain":[-0.15,250.1],"nice":false,"zero":false},"axis":null},"y":{"field":"p","type":"quantitative","scale":{"domain":[19.72,24.833],"nice":false,"zero":false},"axis":null},"text":{"field":"t"}}},
{"data":{"name":"pticks"},"mark":{"type":"text","align":"left","baseline":"middle","dx":8,"fontSize":11,"color":"#555"},"encoding":{"x":{"datum":250.1,"type":"quantitative","scale":{"domain":[-0.15,250.1],"nice":false,"zero":false},"axis":null},"y":{"field":"v","type":"quantitative","scale":{"domain":[19.72,24.833],"nice":false,"zero":false},"axis":null},"text":{"field":"v","type":"quantitative","format":".3f"}}},
{"data":{"values":[{}]},"mark":{"type":"text","text":"200-SMA","align":"left","baseline":"middle","fontSize":14,"color":"#6e46b8"},"encoding":{"x":{"datum":93.6,"type":"quantitative","scale":{"domain":[-0.15,250.1],"nice":false,"zero":false},"axis":null},"y":{"datum":23.26,"type":"quantitative","scale":{"domain":[19.72,24.833],"nice":false,"zero":false},"axis":null}}},
{"data":{"values":[{}]},"mark":{"type":"text","text":"50-SMA","align":"left","baseline":"middle","fontSize":14,"color":"#aacc3a"},"encoding":{"x":{"datum":234.6,"type":"quantitative","scale":{"domain":[-0.15,250.1],"nice":false,"zero":false},"axis":null},"y":{"datum":22.11,"type":"quantitative","scale":{"domain":[19.72,24.833],"nice":false,"zero":false},"axis":null}}},
{"data":{"values":[{}]},"mark":{"type":"rect","color":"#555555","opacity":0.93},"encoding":{"x":{"datum":0.74,"type":"quantitative","scale":{"domain":[-0.15,250.1],"nice":false,"zero":false},"axis":null},"x2":{"datum":18.2},"y":{"datum":24.764,"type":"quantitative","scale":{"domain":[19.72,24.833],"nice":false,"zero":false},"axis":null},"y2":{"datum":24.458}}},
{"data":{"values":[{}]},"mark":{"type":"rect","color":"#555555","opacity":0.93},"encoding":{"x":{"datum":0.74,"type":"quantitative","scale":{"domain":[-0.15,250.1],"nice":false,"zero":false},"axis":null},"x2":{"datum":20.6},"y":{"datum":24.389,"type":"quantitative","scale":{"domain":[19.72,24.833],"nice":false,"zero":false},"axis":null},"y2":{"datum":24.083}}},
{"data":{"values":[{}]},"mark":{"type":"rect","color":"#555555","opacity":0.93},"encoding":{"x":{"datum":0.74,"type":"quantitative","scale":{"domain":[-0.15,250.1],"nice":false,"zero":false},"axis":null},"x2":{"datum":19.1},"y":{"datum":24.014,"type":"quantitative","scale":{"domain":[19.72,24.833],"nice":false,"zero":false},"axis":null},"y2":{"datum":23.722}}},
{"data":{"values":[{}]},"mark":{"type":"rect","color":"#2b8c72"},"encoding":{"x":{"datum":0.74,"type":"quantitative","scale":{"domain":[-0.15,250.1],"nice":false,"zero":false},"axis":null},"x2":{"datum":1.4},"y":{"datum":24.764,"type":"quantitative","scale":{"domain":[19.72,24.833],"nice":false,"zero":false},"axis":null},"y2":{"datum":24.458}}},
{"data":{"values":[{}]},"mark":{"type":"rect","color":"#5b36a3"},"encoding":{"x":{"datum":0.74,"type":"quantitative","scale":{"domain":[-0.15,250.1],"nice":false,"zero":false},"axis":null},"x2":{"datum":1.4},"y":{"datum":24.389,"type":"quantitative","scale":{"domain":[19.72,24.833],"nice":false,"zero":false},"axis":null},"y2":{"datum":24.083}}},
{"data":{"values":[{}]},"mark":{"type":"rect","color":"#c8e030"},"encoding":{"x":{"datum":0.74,"type":"quantitative","scale":{"domain":[-0.15,250.1],"nice":false,"zero":false},"axis":null},"x2":{"datum":1.4},"y":{"datum":24.04,"type":"quantitative","scale":{"domain":[19.72,24.833],"nice":false,"zero":false},"axis":null},"y2":{"datum":23.722}}},
{"data":{"values":[{"t":"XAG/USD","p":24.611},{"t":"SMA (200,0)","p":24.236},{"t":"SMA (50,0)","p":23.868}]},"mark":{"type":"text","align":"left","baseline":"middle","fontSize":12.5,"fontWeight":"bold","color":"white"},"encoding":{"x":{"datum":3.2,"type":"quantitative","scale":{"domain":[-0.15,250.1],"nice":false,"zero":false},"axis":null},"y":{"field":"p","type":"quantitative","scale":{"domain":[19.72,24.833],"nice":false,"zero":false},"axis":null},"text":{"field":"t"}}},
{"data":{"values":[{}]},"mark":{"type":"rect","color":"#2f4468","cornerRadius":2},"encoding":{"x":{"datum":250.8,"type":"quantitative","scale":{"domain":[-0.15,250.1],"nice":false,"zero":false},"axis":null},"x2":{"datum":262.8},"y":{"datum":23.175,"type":"quantitative","scale":{"domain":[19.72,24.833],"nice":false,"zero":false},"axis":null},"y2":{"datum":22.94}}},
{"data":{"values":[{}]},"mark":{"type":"point","shape":"triangle-left","filled":true,"size":45,"color":"#2f4468","opacity":1},"encoding":{"x":{"datum":250.3,"type":"quantitative","scale":{"domain":[-0.15,250.1],"nice":false,"zero":false},"axis":null},"y":{"datum":23.059,"type":"quantitative","scale":{"domain":[19.72,24.833],"nice":false,"zero":false},"axis":null}}},
{"data":{"values":[{}]},"mark":{"type":"text","text":"23.059","align":"center","baseline":"middle","fontSize":12.5,"fontWeight":"bold","color":"white"},"encoding":{"x":{"datum":256.8,"type":"quantitative","scale":{"domain":[-0.15,250.1],"nice":false,"zero":false},"axis":null},"y":{"datum":23.059,"type":"quantitative","scale":{"domain":[19.72,24.833],"nice":false,"zero":false},"axis":null}}}
]},
{"width":1143,"height":45,
"layer":[
{"data":{"values":[{}]},"mark":{"type":"rule","color":"#c4c4c4","strokeWidth":1},"encoding":{"y":{"datum":0,"type":"quantitative","scale":{"domain":[-0.23,0.22],"nice":false,"zero":false},"axis":null}}},
{"data":{"name":"hist"},"mark":{"type":"bar","size":2.2,"clip":true},"encoding":{
 "x":{"field":"i","type":"quantitative","scale":{"domain":[-0.15,250.1],"nice":false,"zero":false},"axis":{"values":[13,31,61,91,109,133,151,181,211,235],"labels":false,"grid":true,"title":null}},
 "y":{"field":"v","type":"quantitative","scale":{"domain":[-0.23,0.22],"nice":false,"zero":false},"axis":null},
 "y2":{"datum":0},
 "color":{"condition":{"test":"datum.v > 0","value":"#3be03b"},"value":"#ff2b2b"}}},
{"data":{"name":"sig"},"mark":{"type":"line","color":"#f0913a","strokeWidth":1.3,"interpolate":"monotone","clip":true,"strokeJoin":"round"},"encoding":{"x":{"field":"i","type":"quantitative","scale":{"domain":[-0.15,250.1],"nice":false,"zero":false},"axis":null},"y":{"field":"v","type":"quantitative","scale":{"domain":[-0.23,0.22],"nice":false,"zero":false},"axis":null}}},
{"data":{"name":"macd"},"mark":{"type":"line","color":"#2848c0","strokeWidth":1.3,"interpolate":"monotone","clip":true,"strokeJoin":"round"},"encoding":{"x":{"field":"i","type":"quantitative","scale":{"domain":[-0.15,250.1],"nice":false,"zero":false},"axis":null},"y":{"field":"v","type":"quantitative","scale":{"domain":[-0.23,0.22],"nice":false,"zero":false},"axis":null}}},
{"data":{"values":[{}]},"mark":{"type":"text","text":"-0.000","align":"left","baseline":"middle","dx":4,"fontSize":11,"color":"#555"},"encoding":{"x":{"datum":250.1,"type":"quantitative","scale":{"domain":[-0.15,250.1],"nice":false,"zero":false},"axis":null},"y":{"datum":0,"type":"quantitative","scale":{"domain":[-0.23,0.22],"nice":false,"zero":false},"axis":null}}},
{"data":{"values":[{}]},"mark":{"type":"text","text":"≡","align":"center","baseline":"bottom","dy":-1,"fontSize":12,"color":"#666","font":"DejaVu Sans"},"encoding":{"x":{"datum":124.9,"type":"quantitative","scale":{"domain":[-0.15,250.1],"nice":false,"zero":false},"axis":null},"y":{"datum":0.22,"type":"quantitative","scale":{"domain":[-0.23,0.22],"nice":false,"zero":false},"axis":null}}},
{"data":{"values":[{}]},"mark":{"type":"rect","color":"#555555","opacity":0.93},"encoding":{"x":{"datum":0.74,"type":"quantitative","scale":{"domain":[-0.15,250.1],"nice":false,"zero":false},"axis":null},"x2":{"datum":24.4},"y":{"datum":0.18,"type":"quantitative","scale":{"domain":[-0.23,0.22],"nice":false,"zero":false},"axis":null},"y2":{"datum":0.0}}},
{"data":{"values":[{}]},"mark":{"type":"rect","color":"#2848c0"},"encoding":{"x":{"datum":0.74,"type":"quantitative","scale":{"domain":[-0.15,250.1],"nice":false,"zero":false},"axis":null},"x2":{"datum":1.3},"y":{"datum":0.18,"type":"quantitative","scale":{"domain":[-0.23,0.22],"nice":false,"zero":false},"axis":null},"y2":{"datum":0.0}}},
{"data":{"values":[{}]},"mark":{"type":"text","text":"MACD (12,26,9)","align":"left","baseline":"middle","fontSize":10.5,"color":"white","font":"Liberation Sans"},"encoding":{"x":{"datum":3.5,"type":"quantitative","scale":{"domain":[-0.15,250.1],"nice":false,"zero":false},"axis":null},"y":{"datum":0.09,"type":"quantitative","scale":{"domain":[-0.23,0.22],"nice":false,"zero":false},"axis":null}}}
]},
{"width":1143,"height":68,
"layer":[
{"data":{"values":[{}]},"mark":{"type":"rect","color":"#80f480"},"encoding":{"x":{"datum":-0.15,"type":"quantitative","scale":{"domain":[-0.15,250.1],"nice":false,"zero":false},"axis":null},"x2":{"datum":234.4},"y":{"datum":70,"type":"quantitative","scale":{"domain":[0,100],"nice":false,"zero":false},"axis":null},"y2":{"datum":100}}},
{"data":{"values":[{}]},"mark":{"type":"rect","color":"#fc8080"},"encoding":{"x":{"datum":-0.15,"type":"quantitative","scale":{"domain":[-0.15,250.1],"nice":false,"zero":false},"axis":null},"x2":{"datum":234.4},"y":{"datum":0,"type":"quantitative","scale":{"domain":[0,100],"nice":false,"zero":false},"axis":null},"y2":{"datum":30}}},
{"data":{"values":[{"lv":70},{"lv":30}]},"mark":{"type":"rule","color":"#111","strokeWidth":1,"strokeDash":[2,1]},"encoding":{"x":{"datum":-0.15,"type":"quantitative","scale":{"domain":[-0.15,250.1],"nice":false,"zero":false},"axis":null},"x2":{"datum":234.4},"y":{"field":"lv","type":"quantitative","scale":{"domain":[0,100],"nice":false,"zero":false},"axis":null}}},
{"data":{"name":"rsi"},"mark":{"type":"line","color":"#2f4fc0","strokeWidth":1,"clip":true,"strokeJoin":"round"},"encoding":{
 "x":{"field":"i","type":"quantitative","scale":{"domain":[-0.15,250.1],"nice":false,"zero":false},"axis":{"values":[13,31,61,91,109,133,151,181,211,235],"labels":false,"grid":true,"title":null}},
 "y":{"field":"r","type":"quantitative","scale":{"domain":[0,100],"nice":false,"zero":false},"axis":{"orient":"right","values":[50],"labels":false,"grid":true,"title":null}}}},
{"data":{"name":"ticks"},"mark":{"type":"text","baseline":"middle","align":"center","dy":13,"fontSize":11,"color":"#444"},"encoding":{"x":{"field":"i","type":"quantitative","scale":{"domain":[-0.15,250.1],"nice":false,"zero":false},"axis":null},"y":{"datum":0,"type":"quantitative","scale":{"domain":[0,100],"nice":false,"zero":false},"axis":null},"text":{"field":"lab"},"fontWeight":{"field":"w","type":"nominal","scale":null}}},
{"data":{"name":"rticks"},"mark":{"type":"text","align":"left","baseline":"middle","dx":5,"fontSize":11,"color":"#555"},"encoding":{"x":{"datum":250.1,"type":"quantitative","scale":{"domain":[-0.15,250.1],"nice":false,"zero":false},"axis":null},"y":{"field":"v","type":"quantitative","scale":{"domain":[0,100],"nice":false,"zero":false},"axis":null},"text":{"field":"t"}}},
{"data":{"values":[{}]},"mark":{"type":"text","text":"≡","align":"center","baseline":"bottom","dy":-1,"fontSize":12,"color":"#666","font":"DejaVu Sans"},"encoding":{"x":{"datum":124.9,"type":"quantitative","scale":{"domain":[-0.15,250.1],"nice":false,"zero":false},"axis":null},"y":{"datum":100,"type":"quantitative","scale":{"domain":[0,100],"nice":false,"zero":false},"axis":null}}},
{"data":{"values":[{}]},"mark":{"type":"rect","color":"#555555","opacity":0.93},"encoding":{"x":{"datum":0.74,"type":"quantitative","scale":{"domain":[-0.15,250.1],"nice":false,"zero":false},"axis":null},"x2":{"datum":25.0},"y":{"datum":92.6,"type":"quantitative","scale":{"domain":[0,100],"nice":false,"zero":false},"axis":null},"y2":{"datum":61.8}}},
{"data":{"values":[{}]},"mark":{"type":"rect","color":"#3cc83c"},"encoding":{"x":{"datum":0.74,"type":"quantitative","scale":{"domain":[-0.15,250.1],"nice":false,"zero":false},"axis":null},"x2":{"datum":1.3},"y":{"datum":92.6,"type":"quantitative","scale":{"domain":[0,100],"nice":false,"zero":false},"axis":null},"y2":{"datum":61.8}}},
{"data":{"values":[{}]},"mark":{"type":"text","text":"RSI (14,70,30,1)","align":"left","baseline":"middle","fontSize":10.5,"color":"white","font":"Liberation Sans"},"encoding":{"x":{"datum":2.8,"type":"quantitative","scale":{"domain":[-0.15,250.1],"nice":false,"zero":false},"axis":null},"y":{"datum":78,"type":"quantitative","scale":{"domain":[0,100],"nice":false,"zero":false},"axis":null}}}
]}
]
}
